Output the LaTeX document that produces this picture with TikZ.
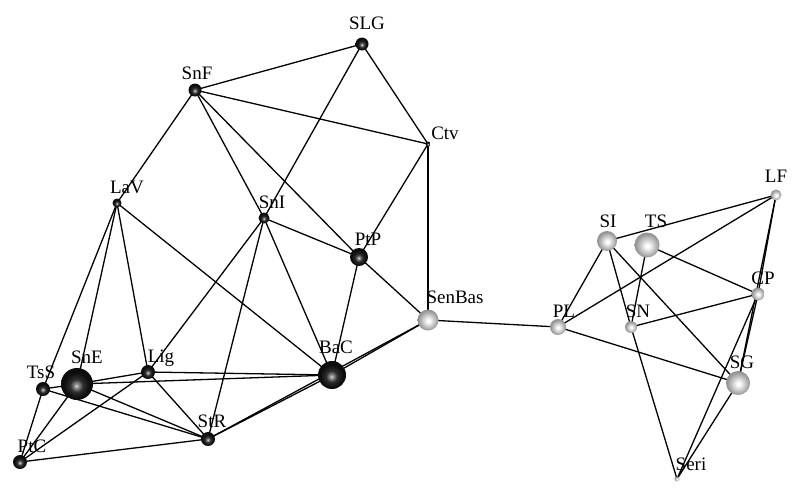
\documentclass[tikz,border=0pt]{standalone}
\usepackage{fontspec}
\setmainfont{Liberation Serif}
\pgfdeclarelayer{bg}
\pgfsetlayers{bg,main}
\pgfdeclareradialshading{dball}{\pgfpoint{-1bp}{-3bp}}{color(0bp)=(black!8); color(2bp)=(black!35); color(10bp)=(black!82); color(20bp)=(black!95); color(50bp)=(black!95)}
\pgfdeclareradialshading{lball}{\pgfpoint{1bp}{-2bp}}{color(0bp)=(white); color(3bp)=(white); color(14bp)=(black!22); color(24bp)=(black!42); color(50bp)=(black!42)}
\tikzset{
  sph/.style={circle, inner sep=0pt, minimum size=#1},
  dk/.style={sph=#1, shade, shading=dball},
  lt/.style={sph=#1, shade, shading=lball},
  lbl/.style={font=\fontsize{19}{21}\selectfont, inner sep=0pt, anchor=base},
  edge/.style={line width=1.3pt, black}
}
\begin{document}
\begin{tikzpicture}[x=1pt,y=-1pt]
\useasboundingbox (0,0) rectangle (800,493);
% spheres
\node[dk=13pt] (SLG) at (362,44) {};
\node[dk=13pt] (SnF) at (195,90) {};
\node[dk=5pt] (Ctv) at (428,144) {};
\node[dk=9pt] (LaV) at (117,203) {};
\node[dk=11pt] (SnI) at (264,218) {};
\node[dk=18pt] (PtP) at (359,257) {};
\node[lt=21pt] (SenBas) at (428,320) {};
\node[dk=28pt] (BaC) at (332,375) {};
\node[dk=14pt] (Lig) at (148,372) {};
\node[dk=32pt] (SnE) at (77,384) {};
\node[dk=14pt] (TsS) at (43,389) {};
\node[dk=14pt] (StR) at (208,439) {};
\node[dk=14pt] (PtC) at (20,462) {};
\node[lt=16pt] (PL) at (558,327) {};
\node[lt=20pt] (SI) at (607,241) {};
\node[lt=25pt] (TS) at (647,245) {};
\node[lt=11pt] (LF) at (776,195) {};
\node[lt=13pt] (CP) at (758,294) {};
\node[lt=12pt] (SN) at (631,327) {};
\node[lt=24pt] (SG) at (738,383) {};
\node[lt=5pt] (Seri) at (677,479) {};
% labels
\node[lbl] (tSLG) at (367,29) {SLG};
\node[lbl] (tSnF) at (197,79) {SnF};
\node[lbl] (tCtv) at (445,139) {Ctv};
\node[lbl] (tLaV) at (127,193) {LaV};
\node[lbl] (tSnI) at (272,208) {SnI};
\node[lbl] (tPtP) at (368,245) {PtP};
\node[lbl] (tSenBas) at (455,303) {SenBas};
\node[lbl] (tBaC) at (336,353) {BaC};
\node[lbl] (tLig) at (161,362) {Lig};
\node[lbl] (tSnE) at (87,363) {SnE};
\node[lbl] (tTsS) at (41,378) {TsS};
\node[lbl] (tStR) at (212,427) {StR};
\node[lbl] (tPtC) at (32,452) {PtC};
\node[lbl] (tPL) at (564,317) {PL};
\node[lbl] (tSI) at (608,227) {SI};
\node[lbl] (tTS) at (656,227) {TS};
\node[lbl] (tLF) at (776,182) {LF};
\node[lbl] (tCP) at (763,284) {CP};
\node[lbl] (tSN) at (638,317) {SN};
\node[lbl] (tSG) at (742,368) {SG};
\node[lbl] (tSeri) at (691,470) {Seri};
% edges
\begin{pgfonlayer}{bg}
\foreach \a/\b in {SnF/SLG, SnF/Ctv, SLG/Ctv, SLG/SnI, SnF/LaV, SnF/SnI, SnF/PtP,
  Ctv/PtP, Ctv/SenBas, SnI/PtP, PtP/SenBas, SnI/BaC, SnI/StR, SnI/Lig, LaV/BaC,
  LaV/Lig, LaV/TsS, LaV/SnE, PtP/BaC, BaC/SenBas, StR/BaC, StR/SenBas, Lig/BaC,
  SnE/BaC, SnE/Lig, TsS/SnE, TsS/StR, SnE/StR, Lig/StR, PtC/TsS, PtC/SnE, PtC/Lig,
  PtC/StR,
  SenBas/PL, PL/SI, PL/LF, PL/SG, SI/LF, SI/SN, SI/SG, TS/SN, TS/CP, SN/CP, SN/Seri,
  LF/CP, LF/SG, CP/SG, CP/Seri, SG/Seri}
  \draw[edge] (\a.center) -- (\b.center);
\end{pgfonlayer}
\end{tikzpicture}
\end{document}
